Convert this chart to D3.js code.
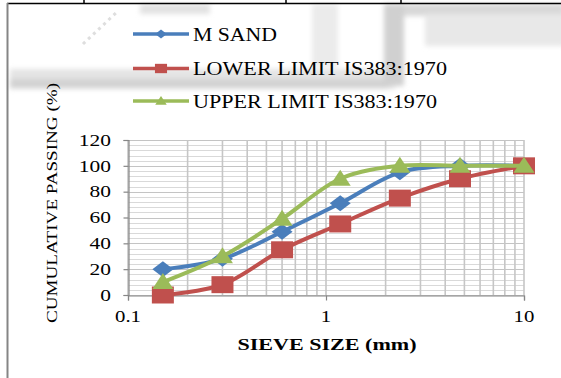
<!DOCTYPE html>
<html>
<head>
<meta charset="utf-8">
<script src="https://cdn.jsdelivr.net/npm/d3@7/dist/d3.min.js"></script>
<style>
  html, body { margin: 0; padding: 0; background: #fff; }
  svg { display: block; }
  text { font-family: "Liberation Serif", "Times New Roman", serif; fill: #000; }
</style>
</head>
<body>
<svg id="chart" width="561" height="378"></svg>
<script>
// Sieve sizes (mm) and cumulative passing (%)
const sieveSizes = [0.15, 0.3, 0.6, 1.18, 2.36, 4.75, 10];
const mSand      = [20, 28, 49, 71, 95, 100, 100];
const lowerLimit = [0, 8, 35, 55, 75, 90, 100];
const upperLimit = [10, 30, 59, 90, 100, 100, 100];

const seriesNames  = ["M SAND", "LOWER LIMIT IS383:1970", "UPPER LIMIT IS383:1970"];
const seriesColors = ["#4A7EBB", "#C0504D", "#9BBB59"];
const seriesMarks  = ["diamond", "square", "triangle"];

const xTickValues = [0.1, 1, 10];
const xTickLabels = ["0.1", "1", "10"];
const yTickValues = [0, 20, 40, 60, 80, 100, 120];

const svg = d3.select("#chart");

// ---- page furniture: frame lines and faint scan shading ----
const defs = svg.append("defs");
defs.append("filter").attr("id", "soft").attr("x", "-20%").attr("y", "-50%")
  .attr("width", "140%").attr("height", "200%")
  .append("feGaussianBlur").attr("stdDeviation", 2.5);

const shade = svg.append("g").attr("filter", "url(#soft)");
shade.append("rect").attr("x", 10).attr("y", 69).attr("width", 385).attr("height", 20)
  .attr("fill", "#e4e4e4");
shade.append("rect").attr("x", 10).attr("y", 79).attr("width", 378).attr("height", 9)
  .attr("fill", "#d2d2d2");
shade.append("rect").attr("x", 384).attr("y", 4).attr("width", 20).attr("height", 82)
  .attr("fill", "#d0d0d0");
shade.append("rect").attr("x", 312).attr("y", 4).attr("width", 26).attr("height", 62)
  .attr("fill", "#ebebeb");
shade.append("rect").attr("x", 404).attr("y", 4).attr("width", 160).attr("height", 12)
  .attr("fill", "#d8d8d8");
shade.append("rect").attr("x", 425).attr("y", 14).attr("width", 140).attr("height", 32)
  .attr("fill", "#e8e8e8");
shade.append("rect").attr("x", 140).attr("y", 4).attr("width", 70).attr("height", 10)
  .attr("fill", "#e2e2e2");
svg.append("line").attr("x1", 83).attr("y1", 44).attr("x2", 117).attr("y2", 12)
  .attr("stroke", "#dedede").attr("stroke-width", 3).attr("stroke-dasharray", "3,4");

svg.append("line").attr("x1", 7).attr("x2", 561).attr("y1", 3.5).attr("y2", 3.5)
  .attr("stroke", "#000").attr("stroke-width", 1.5);
[84, 286, 401].forEach(px => {
  svg.append("line").attr("x1", px).attr("x2", px).attr("y1", 0).attr("y2", 3.5)
    .attr("stroke", "#000").attr("stroke-width", 1.5);
});
svg.append("line").attr("x1", 7.5).attr("x2", 7.5).attr("y1", 3).attr("y2", 378)
  .attr("stroke", "#858585").attr("stroke-width", 2);

// ---- scales ----
const x = d3.scaleLog().domain([0.1, 10]).range([128, 524]);
const y = d3.scaleLinear().domain([0, 120]).range([295, 140]);

// ---- gridlines ----
const grid = svg.append("g");
d3.range(0, 121, 4).forEach(v => {
  grid.append("line").attr("x1", x(0.1)).attr("x2", x(10))
    .attr("y1", Math.round(y(v)) + 0.5).attr("y2", Math.round(y(v)) + 0.5)
    .attr("stroke", v % 20 === 0 ? "#c4c4c4" : "#d9d9d9").attr("stroke-width", 1);
});
const vGrid = [];
[0.1, 1].forEach(dec => { for (let k = 1; k <= 9; k++) vGrid.push(dec * k); });
vGrid.push(10);
vGrid.forEach(v => {
  grid.append("line").attr("x1", x(v)).attr("x2", x(v))
    .attr("y1", y(120)).attr("y2", y(0))
    .attr("stroke", "#c6c6c6").attr("stroke-width", 1.6);
});

// ---- axes ----
const axisColor = "#868686";
const xAxis = svg.append("g").attr("transform", `translate(0,${Math.round(y(0)) + 0.5})`)
  .call(d3.axisBottom(x).tickValues(xTickValues).tickSize(5).tickFormat(""));
const yAxis = svg.append("g").attr("transform", `translate(${Math.round(x(0.1)) + 0.5},0)`)
  .call(d3.axisLeft(y).tickValues(yTickValues).tickSize(5).tickFormat(""));
[xAxis, yAxis].forEach(a => {
  a.select(".domain").attr("stroke", axisColor).attr("stroke-width", 1.2);
  a.selectAll(".tick line").attr("stroke", axisColor).attr("stroke-width", 1.2);
});

// tick labels (the face is drawn a little wide)
xTickValues.forEach((v, i) => {
  svg.append("text").attr("transform", `translate(${x(v)},322) scale(1.3,1)`)
    .attr("text-anchor", "middle").attr("font-size", 16).text(xTickLabels[i]);
});
yTickValues.forEach(v => {
  svg.append("text").attr("transform", `translate(111,${y(v) + 5.8}) scale(1.3,1)`)
    .attr("text-anchor", "end").attr("font-size", 16.5).text(v);
});

// axis titles
svg.append("text").attr("x", 327).attr("y", 350).attr("text-anchor", "middle")
  .attr("font-size", 17.5).attr("font-weight", "bold")
  .attr("textLength", 179).attr("lengthAdjust", "spacingAndGlyphs")
  .text("SIEVE SIZE (mm)");
svg.append("text").attr("transform", "translate(57,203) rotate(-90)")
  .attr("text-anchor", "middle").attr("font-size", 15)
  .attr("textLength", 240).attr("lengthAdjust", "spacingAndGlyphs")
  .text("CUMULATIVE PASSING (%)");

// ---- markers ----
function markerPath(kind) {
  if (kind === "diamond") return "M0,-8L10.5,0L0,8L-10.5,0Z";
  if (kind === "square") return "M-11,-8.5H11V8.5H-11Z";
  return "M0,-9L10.5,7H-10.5Z";
}

// ---- series ----
const allSeries = [mSand, lowerLimit, upperLimit];
const lineGen = d3.line()
  .x((d, i) => x(sieveSizes[i]))
  .y(d => y(d))
  .curve(d3.curveCatmullRom.alpha(0.5));

allSeries.forEach((vals, s) => {
  const g = svg.append("g");
  g.append("path").attr("d", lineGen(vals)).attr("fill", "none")
    .attr("stroke", seriesColors[s]).attr("stroke-width", 4)
    .attr("stroke-linejoin", "round").attr("stroke-linecap", "round");
  g.selectAll("path.mk").data(vals).join("path").attr("class", "mk")
    .attr("d", markerPath(seriesMarks[s]))
    .attr("transform", (d, i) => `translate(${x(sieveSizes[i])},${y(d)})`)
    .attr("fill", seriesColors[s]);
});

// ---- legend ----
const legendY = [34, 68.5, 101];
const legendTextLen = [84, 254, 244];
seriesNames.forEach((name, s) => {
  const g = svg.append("g").attr("transform", `translate(0,${legendY[s]})`);
  g.append("line").attr("x1", 133).attr("x2", 189).attr("y1", 0).attr("y2", 0)
    .attr("stroke", seriesColors[s]).attr("stroke-width", 3.5);
  g.append("path").attr("d", markerPath(seriesMarks[s]))
    .attr("transform", `translate(161,0) scale(0.55)`).attr("fill", seriesColors[s]);
  g.append("text").attr("x", 193).attr("y", 6.5).attr("font-size", 18.5)
    .attr("textLength", legendTextLen[s]).attr("lengthAdjust", "spacingAndGlyphs")
    .text(name);
});
</script>
</body>
</html>
